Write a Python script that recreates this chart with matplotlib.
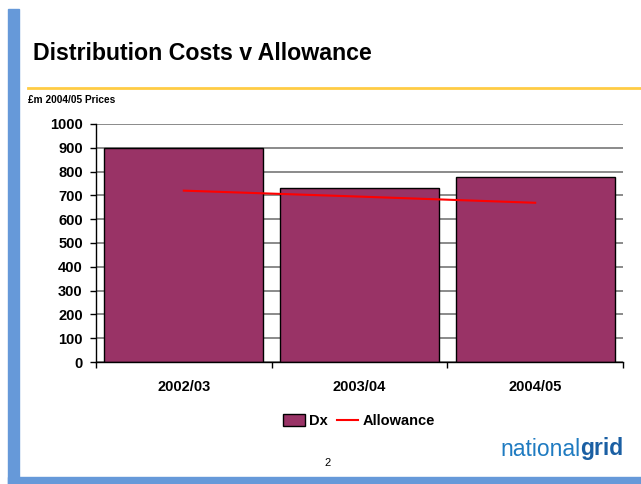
import matplotlib.pyplot as plt
import numpy as np

# Distribution costs vs allowance, £m in 2004/05 prices
years = ["2002/03", "2003/04", "2004/05"]
dx_costs = [898, 730, 776]
allowance = [720, 695, 669]
y_ticks = [0, 100, 200, 300, 400, 500, 600, 700, 800, 900, 1000]

plt.rcParams['font.family'] = ['Liberation Sans', 'DejaVu Sans']

fig = plt.figure(figsize=(6.41, 4.84), dpi=100)

# Slide furniture: blue border strips, yellow rule
blue = '#6699D9'
fig.patches.append(plt.Rectangle((8 / 641, 0), 11 / 641, 1 - 9 / 484,
                                 transform=fig.transFigure, color=blue, zorder=0))
fig.patches.append(plt.Rectangle((8 / 641, 0), 1, 7 / 484,
                                 transform=fig.transFigure, color=blue, zorder=0))
fig.add_artist(plt.Line2D([28 / 641, 1], [1 - 88 / 484] * 2, color='#FFCC44', lw=2))

fig.text(33 / 641, 1 - 53 / 484, "Distribution Costs v Allowance", fontsize=16.7,
         fontweight='bold', va='center', ha='left')
fig.text(28 / 641, 1 - 100 / 484, "£m 2004/05 Prices", fontsize=7.3,
         fontweight='bold', va='center', ha='left')

ax = fig.add_axes([96 / 641, 1 - 362 / 484, 527 / 641, 238 / 484])
x = np.arange(len(years))
ax.bar(x, dx_costs, width=0.905, color='#993366', edgecolor='black', lw=1,
       label='Dx', zorder=2)
ax.plot(x, allowance, color='red', lw=1.5, label='Allowance', zorder=3)

ax.set_xlim(-0.5, 2.5)
ax.set_ylim(0, 1000)
ax.set_yticks(y_ticks)
ax.yaxis.grid(True, color='#777777', lw=1.2, zorder=0)
ax.set_axisbelow(True)
for s in ['top', 'right']:
    ax.spines[s].set_visible(False)
ax.spines['left'].set_linewidth(1)
ax.spines['bottom'].set_linewidth(1)
ax.tick_params(axis='y', length=4.5, width=1, labelsize=10.5, pad=5)
ax.set_xticks([-0.5, 0.5, 1.5, 2.5])
ax.set_xticklabels([])
ax.set_xticks(x, minor=True)
ax.set_xticklabels(years, minor=True)
ax.tick_params(axis='x', which='major', length=4.5, width=1, direction='out')
ax.tick_params(axis='x', which='minor', length=0, labelsize=10.5, pad=13)
for lab in ax.get_yticklabels() + ax.get_xticklabels(minor=True):
    lab.set_fontweight('bold')

handles, labels = ax.get_legend_handles_labels()
order = [labels.index('Dx'), labels.index('Allowance')]
leg = fig.legend([handles[i] for i in order], [labels[i] for i in order],
                 loc='center', bbox_to_anchor=(359 / 641, 1 - 421 / 484), ncol=2,
                 frameon=False, prop={'weight': 'bold', 'size': 10.5},
                 handlelength=1.5, handleheight=0.9, handletextpad=0.3,
                 columnspacing=0.6)

fig.text(328 / 641, 1 - 463 / 484, "2", fontsize=8, ha='center', va='center')
t1 = fig.text(500 / 641, 1 - 449 / 484, "national", fontsize=16.5, color='#1F7BC1',
              ha='left', va='center')
fig.canvas.draw()
bb = t1.get_window_extent()
fig.text(bb.x1 / fig.bbox.width, 1 - 449 / 484, "grid", fontsize=16.5,
         fontweight='bold', color='#1A5FA3', ha='left', va='center')

fig.savefig("out.png", dpi=100)
